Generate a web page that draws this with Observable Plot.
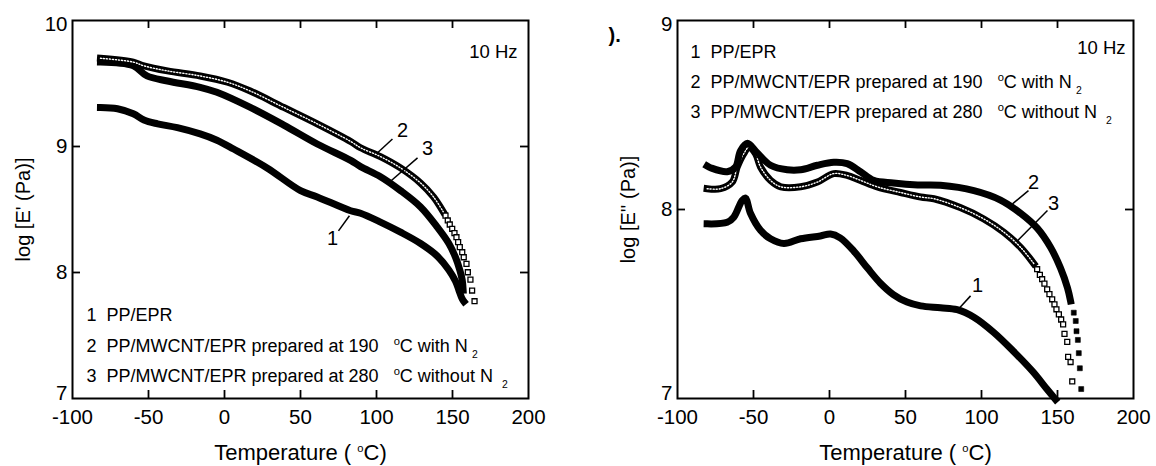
<!DOCTYPE html>
<html><head><meta charset="utf-8">
<script src="https://cdn.jsdelivr.net/npm/d3@7"></script>
<script src="https://cdn.jsdelivr.net/npm/@observablehq/plot@0.6"></script>
<style>
body{margin:0;background:#fff;}
#wrap{display:flex;width:1156px;height:466px;overflow:hidden;}
svg text{white-space:pre;}
</style></head><body><div id="wrap"></div>
<script>
// ---------- shared text ----------
const xTicks = [-100, -50, 0, 50, 100, 150, 200];
const yTicksL = [7, 8, 9, 10];
const yTicksR = [7, 8, 9];
const legendLines = [
  "1  PP/EPR",
  "2  PP/MWCNT/EPR prepared at 190   ^oC with N_2",
  "3  PP/MWCNT/EPR prepared at 280   ^oC without N _2"
];
const freqLabel = "10 Hz";
const xLabel = "Temperature ( ^oC)";
const yLabelL = "log [E' (Pa)]";
const yLabelR = "log [E'' (Pa)]";
const panelMark = ").";

// ---------- left panel: log E' ----------
const tempL1 = [-81.6,-70.4,-60,-53,-44,-31,-16,-5,6,28,50,61,83,89.5,102.6,115.8,129,140,147.6,152,154.2,156.4,157.5];
const logEL1 = [9.31,9.30,9.26,9.21,9.18,9.15,9.10,9.05,8.98,8.83,8.65,8.60,8.49,8.47,8.40,8.32,8.23,8.13,8.02,7.93,7.86,7.79,7.77];

const tempL2 = [-81.6,-60,-53,-37.5,-16,2,17,39,61,83,89.5,102.6,115.8,129,137.5,144];
const logEL2 = [9.70,9.67,9.64,9.60,9.56,9.51,9.44,9.31,9.18,9.04,8.99,8.92,8.83,8.71,8.60,8.48];
const tempL2pts = [145.4,146.9,148.2,149.8,151.3,152.6,153.7,154.8,156.4,157.4,159.2,160.1,161.8,162.9,164.5];
const logEL2pts = [8.452,8.413,8.381,8.347,8.312,8.280,8.241,8.201,8.161,8.121,8.069,8.002,7.944,7.857,7.772];

const tempL3 = [-81.6,-60,-51,-37.5,-16,-5,17,39,61,83,89.5,102.6,115.8,129,140,147.6,152,154.8,156.4,157];
const logEL3 = [9.67,9.64,9.56,9.52,9.47,9.43,9.31,9.17,9.02,8.89,8.84,8.76,8.65,8.52,8.36,8.23,8.12,8.02,7.94,7.86];

const annotL = [
  {id:"1", t:71.1, v:8.27, t1:75, v1:8.33, t2:82.2, v2:8.45},
  {id:"2", t:117.1, v:9.13, t1:110.5, v1:9.06, t2:100.7, v2:8.95},
  {id:"3", t:133.6, v:8.98, t1:127, v1:8.91, t2:107.9, v2:8.71}
];

// ---------- right panel: log E'' ----------
const tempR1 = [-80.5,-67.3,-63,-57.5,-55.3,-52,-45.4,-38.8,-30,-19,-6,0.7,7,16,25,33.5,42,51,60,73,84,95,108,121,134,143,148.7];
const logER1 = [7.924,7.932,7.959,8.048,8.06,7.98,7.89,7.845,7.82,7.845,7.86,7.87,7.85,7.78,7.69,7.61,7.55,7.51,7.49,7.48,7.47,7.43,7.35,7.25,7.14,7.05,6.995];

const tempR2 = [-80.5,-78,-67.3,-61.8,-58.6,-54,-47.6,-38.8,-27.8,-19,-8,2.8,11.6,20.4,29,42,58,73,95,112.5,125.7,136.8,145.4,152,156.6,158.6];
const logER2 = [8.23,8.22,8.20,8.225,8.31,8.35,8.30,8.234,8.21,8.21,8.234,8.25,8.243,8.20,8.154,8.14,8.13,8.128,8.10,8.05,7.98,7.90,7.80,7.69,7.585,7.516];
const tempR2pts = [160.7,162,162.5,163.4,164,164.7,165.6];
const logER2pts = [7.454,7.41,7.356,7.31,7.24,7.16,7.05];

const tempR3 = [-80.5,-71.7,-64,-60.7,-56.4,-53,-48.7,-45.4,-38.8,-32,-19,-8,2.8,11.6,20.4,31.4,46.7,60,68.7,86,101.5,114.7,125.7,134.4];
const logER3 = [8.11,8.11,8.145,8.225,8.296,8.33,8.296,8.225,8.154,8.12,8.12,8.145,8.19,8.18,8.154,8.12,8.09,8.066,8.057,8.01,7.95,7.88,7.80,7.714];
const tempR3pts = [136.6,138.4,139.9,141.4,143.2,144.7,146.5,148,149.3,150.9,152.4,153.7,154.6,156.4,157,158.6,159.7];
const logER3pts = [7.684,7.654,7.631,7.608,7.578,7.552,7.525,7.498,7.472,7.445,7.418,7.392,7.342,7.30,7.22,7.193,7.09];

const annotR = [
  {id:"1", t:97.4, v:7.596, t1:92.8, v1:7.543, t2:84.9, v2:7.473},
  {id:"2", t:134.2, v:8.144, t1:130.9, v1:8.10, t2:120.4, v2:8.03},
  {id:"3", t:147.4, v:8.032, t1:143.4, v1:7.995, t2:123.7, v2:7.835}
];

// ---------- drawing ----------
const FONT = "'Liberation Sans', Arial, Helvetica, sans-serif";
const H = 466, MT = 20, MB = 68;

function rows(T, V) { return T.map((t, i) => ({t, v: V[i]})); }

function panel(o) {
  const fw = o.width - o.ml - o.mr, fh = H - MT - MB;
  const marks = [];
  for (const s of o.series) {
    const r = rows(s.t, s.v);
    marks.push(Plot.line(r, {x: "t", y: "v", stroke: "#000", strokeWidth: 7, curve: "catmull-rom", strokeLinecap: "square", strokeLinejoin: "round"}));
    if (s.open) marks.push(Plot.line(r, {x: "t", y: "v", stroke: "#fff", strokeWidth: 1.4, strokeDasharray: "1.1 1.9", curve: "catmull-rom"}));
    if (s.pt) marks.push(Plot.dot(rows(s.pt, s.pv), {x: "t", y: "v", symbol: "square", r: 2.8, fill: s.open ? "#fff" : "#000", stroke: "#000", strokeWidth: s.open ? 1.3 : 0.6}));
  }
  const xIn = xTicks.slice(1, -1), yIn = o.yTicks.slice(1, -1);
  const yLo = o.yTicks.slice(0, 1), yHi = o.yTicks.slice(-1), yMid = o.yTicks.slice(1, -1);
  const yLab = {frameAnchor: "left", lineAnchor: "middle", textAnchor: "end", dx: -5, text: d => String(d), fontSize: 20.5};
  marks.push(
    Plot.frame({stroke: "#000", strokeWidth: 2}),
    Plot.ruleX(xIn, {x: d => d, insetTop: fh - 8, stroke: "#000", strokeWidth: 1.8}),
    Plot.ruleX(xIn, {x: d => d, insetBottom: fh - 8, stroke: "#000", strokeWidth: 1.8}),
    Plot.ruleY(yIn, {y: d => d, insetRight: fw - 8, stroke: "#000", strokeWidth: 1.8}),
    Plot.ruleY(yIn, {y: d => d, insetLeft: fw - 8, stroke: "#000", strokeWidth: 1.8}),
    Plot.text(xTicks, {x: d => d, frameAnchor: "bottom", lineAnchor: "top", textAnchor: "middle", dy: 11, text: d => String(d), fontSize: 20.5}),
    Plot.text(yMid, {y: d => d, ...yLab}),
    Plot.text(yLo, {y: d => d, ...yLab, dy: -5}),
    Plot.text(yHi, {y: d => d, ...yLab, dy: 4}),
    Plot.text([xLabel], {frameAnchor: "bottom", lineAnchor: "middle", textAnchor: "middle", dy: 54, text: d => d, fontSize: 22}),
    Plot.text([o.yLabel], {frameAnchor: "left", lineAnchor: "middle", textAnchor: "middle", rotate: -90, dx: -49, text: d => d, fontSize: 20}),
    Plot.text([freqLabel], {frameAnchor: "top-right", lineAnchor: "middle", textAnchor: "end", dx: o.hzDx, dy: o.hzDy, text: d => d, fontSize: 18.5}),
    Plot.link(o.annots, {x1: "t1", y1: "v1", x2: "t2", y2: "v2", stroke: "#000", strokeWidth: 1.5}),
    Plot.text(o.annots, {x: "t", y: "v", text: "id", fontSize: 20, lineAnchor: "middle", textAnchor: "middle"})
  );
  legendLines.forEach((line, i) => {
    marks.push(Plot.text([line], {frameAnchor: o.legAnchor, lineAnchor: "middle", textAnchor: "start", dx: o.legDx, dy: o.legDy[i], text: d => d, fontSize: 18}));
  });
  if (o.extra) marks.push(...o.extra);
  const svg = Plot.plot({
    width: o.width, height: H,
    marginLeft: o.ml, marginRight: o.mr, marginTop: MT, marginBottom: MB,
    x: {domain: [-100, 200], axis: null},
    y: {domain: o.yDomain, axis: null},
    style: {fontFamily: FONT, fontSize: "19px", color: "#000", background: "#fff", overflow: "visible"},
    marks
  });
  richify(svg);
  return svg;
}

function richify(svg) {
  svg.querySelectorAll("text").forEach(t => {
    const s = t.textContent;
    if (!/[\^_]/.test(s)) return;
    const fs = parseFloat(t.getAttribute("font-size") || getComputedStyle(t).fontSize || "18") || 18;
    t.textContent = "";
    let cur = 0;
    for (const p of s.split(/(\^.|_.)/)) {
      if (!p) continue;
      const ts = document.createElementNS("http://www.w3.org/2000/svg", "tspan");
      let target = 0;
      if (p[0] === "^") { target = -0.42 * fs; ts.setAttribute("font-size", (0.62 * fs).toFixed(1)); ts.textContent = p.slice(1); }
      else if (p[0] === "_") { target = 0.32 * fs; ts.setAttribute("font-size", (0.58 * fs).toFixed(1)); ts.setAttribute("dx", "4"); ts.textContent = p.slice(1); }
      else ts.textContent = p;
      if (target !== cur) ts.setAttribute("dy", (target - cur).toFixed(2));
      cur = target;
      t.appendChild(ts);
    }
  });
}

const wrap = document.getElementById("wrap");
wrap.appendChild(panel({
  width: 578, ml: 72, mr: 50, yDomain: [7, 10], yTicks: yTicksL, yLabel: yLabelL,
  series: [
    {t: tempL1, v: logEL1},
    {t: tempL3, v: logEL3},
    {t: tempL2, v: logEL2, open: true, pt: tempL2pts, pv: logEL2pts}
  ],
  annots: annotL, hzDx: -11, hzDy: 32,
  legAnchor: "bottom-left", legDx: 14, legDy: [-83, -52, -22]
}));
wrap.appendChild(panel({
  width: 578, ml: 99, mr: 23, yDomain: [7, 9], yTicks: yTicksR, yLabel: yLabelR,
  series: [
    {t: tempR1, v: logER1},
    {t: tempR3, v: logER3, open: true, pt: tempR3pts, pv: logER3pts},
    {t: tempR2, v: logER2, pt: tempR2pts, pv: logER2pts}
  ],
  annots: annotR, hzDx: -8, hzDy: 28,
  legAnchor: "top-left", legDx: 13, legDy: [32, 62, 92],
  extra: [Plot.text([panelMark], {frameAnchor: "top-left", lineAnchor: "middle", textAnchor: "start", dx: -69, dy: 15, text: d => d, fontSize: 20, fontWeight: "bold"})]
}));
</script></body></html>
